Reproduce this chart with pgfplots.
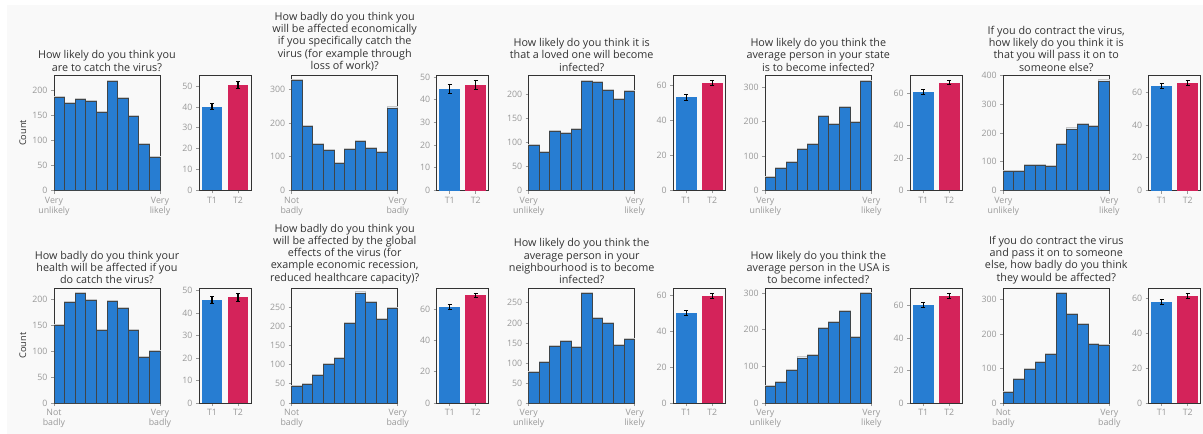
\documentclass[border=0pt]{standalone}
\usepackage{pgfplots}
\pgfplotsset{compat=1.18}
\usepackage{fontspec}
\setmainfont{Open Sans}
\definecolor{bgc}{HTML}{F9F9F9}
\definecolor{hblue}{HTML}{277DD2}
\definecolor{bblue}{HTML}{277DD2}
\definecolor{bred}{HTML}{D4235A}
\definecolor{edgec}{HTML}{3F4549}
\definecolor{haloc}{HTML}{C8C8C8}
\definecolor{axc}{HTML}{333333}
\definecolor{tickc}{HTML}{999999}
\definecolor{labc}{HTML}{999999}
\definecolor{titc}{HTML}{333333}
\pgfplotsset{
  base/.style={scale only axis, clip=false,
    axis line style={color=axc, line width=0.9pt},
    tick style={color=tickc, line width=0.7pt},
    tick align=outside, major tick length=3pt,
    xtick pos=bottom, ytick pos=left,
    tick label style={font=\fontsize{8.8}{10}\selectfont, color=labc},
    /pgf/number format/assume math mode=true,
    ymin=0, anchor=north west,
    title style={font=\fontsize{10.8}{12.3}\selectfont, color=titc, align=center,
      inner sep=0pt, anchor=south, yshift=-2pt},
  },
  hist/.style={base, width=106pt, height=115pt, xmin=0, xmax=10, xtick={0,10},
    xticklabel style={align=center}},
  barp/.style={base, width=52pt, height=115pt, xmin=-0.5, xmax=1.5,
    xtick={0,1}, xticklabels={T1,T2}},
  cnt/.style={ylabel={Count}, ylabel style={font=\fontsize{9.2}{10}\selectfont, color=titc,
    at={(axis description cs:-0.295,0.5)}, anchor=center}},
}
\newcommand\histpanel[2]{%
\begin{axis}[hist, #1]
\addplot[ybar interval, draw=haloc, fill=none, line width=1pt, yshift=1pt] coordinates {#2};
\addplot[ybar interval, draw=edgec, fill=hblue, line width=0.9pt] coordinates {#2};
\end{axis}}
\newcommand\barpanel[5]{%
\begin{axis}[barp, #1]
\addplot[ybar, bar width=0.8, bar shift=0pt, fill=bblue, draw=none,
  error bars/.cd, y dir=both, y explicit,
  error bar style={line width=1.1pt, black},
  error mark options={rotate=90, mark size=2pt, line width=1pt, black}]
  coordinates {(0,#2) +- (0,#3)};
\addplot[ybar, bar width=0.8, bar shift=0pt, fill=bred, draw=none,
  error bars/.cd, y dir=both, y explicit,
  error bar style={line width=1.1pt, black},
  error mark options={rotate=90, mark size=2pt, line width=1pt, black}]
  coordinates {(1,#4) +- (0,#5)};
\end{axis}}
\begin{document}
\begin{tikzpicture}
\fill[white] (0pt,0pt) rectangle (1203pt,-434pt);
\fill[bgc] (7pt,-5pt) rectangle (1203pt,-434pt);
% ---------- Row 1 ----------
\histpanel{at={(54pt,-75.5pt)}, ymax=230, ytick={0,50,...,200}, cnt,
  xticklabels={{Very\\unlikely},{Very\\likely}},
  title={How likely do you think you\\are to catch the virus?}}
  {(0,187) (1,174) (2,183) (3,178) (4,157) (5,218) (6,185) (7,149) (8,93) (9,66) (10,66)}
\barpanel{at={(199pt,-75.5pt)}, ymax=55, ytick={0,10,...,50}}{40}{1.5}{50.5}{1.5}
\histpanel{at={(291.7pt,-75.5pt)}, ymax=340, ytick={0,100,200,300},
  xticklabels={{Not\\badly},{Very\\badly}},
  title={How badly do you think you\\will be affected economically\\if you specifically catch the\\virus (for example through\\loss of work)?}}
  {(0,324) (1,190) (2,136) (3,118) (4,80) (5,120) (6,146) (7,124) (8,112) (9,244) (10,244)}
\barpanel{at={(436.7pt,-75.5pt)}, ymax=50.6, ytick={0,10,...,50}}{44.8}{2}{46.6}{2}
\histpanel{at={(528.7pt,-75.5pt)}, ymax=238, ytick={0,50,...,200},
  xticklabels={{Very\\unlikely},{Very\\likely}},
  title={How likely do you think it is\\that a loved one will become\\infected?}}
  {(0,94) (1,79) (2,123) (3,119) (4,126) (5,225) (6,223) (7,207) (8,189) (9,205) (10,205)}
\barpanel{at={(673.3pt,-75.5pt)}, ymax=65.5, ytick={0,20,40,60}}{53}{1.6}{61.2}{1.3}
\histpanel{at={(765.3pt,-75.5pt)}, ymax=333, ytick={0,100,200,300},
  xticklabels={{Very\\unlikely},{Very\\likely}},
  title={How likely do you think the\\average person in your state\\is to become infected?}}
  {(0,38) (1,64) (2,81) (3,120) (4,132) (5,214) (6,191) (7,240) (8,196) (9,316) (10,316)}
\barpanel{at={(910.3pt,-75.5pt)}, ymax=71, ytick={0,20,40,60}}{60.8}{1.6}{66.5}{1.3}
\histpanel{at={(1003.3pt,-75.5pt)}, ymax=400, ytick={0,100,...,400},
  xticklabels={{Very\\unlikely},{Very\\likely}},
  title={If you do contract the virus,\\how likely do you think it is\\that you will pass it on to\\someone else?}}
  {(0,65) (1,65) (2,87) (3,88) (4,83) (5,161) (6,214) (7,231) (8,223) (9,381) (10,381)}
\barpanel{at={(1148.7pt,-75.5pt)}, ymax=70.3, ytick={0,20,40,60}}{64}{1.7}{65.9}{1.5}
% ---------- Row 2 ----------
\histpanel{at={(54pt,-288pt)}, ymax=221, ytick={0,50,...,200}, cnt,
  xticklabels={{Not\\badly},{Very\\badly}},
  title={How badly do you think your\\health will be affected if you\\do catch the virus?}}
  {(0,149) (1,193) (2,210) (3,197) (4,140) (5,196) (6,182) (7,140) (8,88) (9,99) (10,99)}
\barpanel{at={(199pt,-288pt)}, ymax=51.2, ytick={0,10,...,50}}{45.7}{1.5}{47}{1.6}
\histpanel{at={(291.7pt,-288pt)}, ymax=300, ytick={0,50,...,250},
  xticklabels={{Not\\badly},{Very\\badly}},
  title={How badly do you think you\\will be affected by the global\\effects of the virus (for\\example economic recession,\\reduced healthcare capacity)?}}
  {(0,42) (1,48) (2,73) (3,100) (4,115) (5,207) (6,287) (7,262) (8,219) (9,246) (10,246)}
\barpanel{at={(436.7pt,-288pt)}, ymax=73.8, ytick={0,20,40,60}}{61.5}{1.5}{69}{1.1}
\histpanel{at={(528.7pt,-288pt)}, ymax=287, ytick={0,50,...,250},
  xticklabels={{Very\\unlikely},{Very\\likely}},
  title={How likely do you think the\\average person in your\\neighbourhood is to become\\infected?}}
  {(0,76) (1,100) (2,140) (3,154) (4,138) (5,273) (6,212) (7,199) (8,144) (9,158) (10,158)}
\barpanel{at={(673.3pt,-288pt)}, ymax=64.3, ytick={0,20,40,60}}{50.1}{1.4}{59.7}{1.3}
\histpanel{at={(765.3pt,-288pt)}, ymax=314, ytick={0,100,200,300},
  xticklabels={{Very\\unlikely},{Very\\likely}},
  title={How likely do you think the\\average person in the USA is\\to become infected?}}
  {(0,44) (1,56) (2,89) (3,123) (4,129) (5,204) (6,221) (7,249) (8,179) (9,299) (10,299)}
\barpanel{at={(910.3pt,-288pt)}, ymax=70.7, ytick={0,20,40,60}}{60}{1.5}{65.8}{1.4}
\histpanel{at={(1003.3pt,-288pt)}, ymax=334, ytick={0,100,200,300},
  xticklabels={{Not\\badly},{Very\\badly}},
  title={If you do contract the virus\\and pass it on to someone\\else, how badly do you think\\they would be affected?}}
  {(0,30) (1,69) (2,97) (3,118) (4,141) (5,318) (6,258) (7,227) (8,169) (9,167) (10,167)}
\barpanel{at={(1148.7pt,-288pt)}, ymax=66.2, ytick={0,20,40,60}}{58}{1.5}{61.4}{1.4}
\pgfresetboundingbox
\useasboundingbox (0pt,0pt) rectangle (1203pt,-434pt);
\end{tikzpicture}
\end{document}
